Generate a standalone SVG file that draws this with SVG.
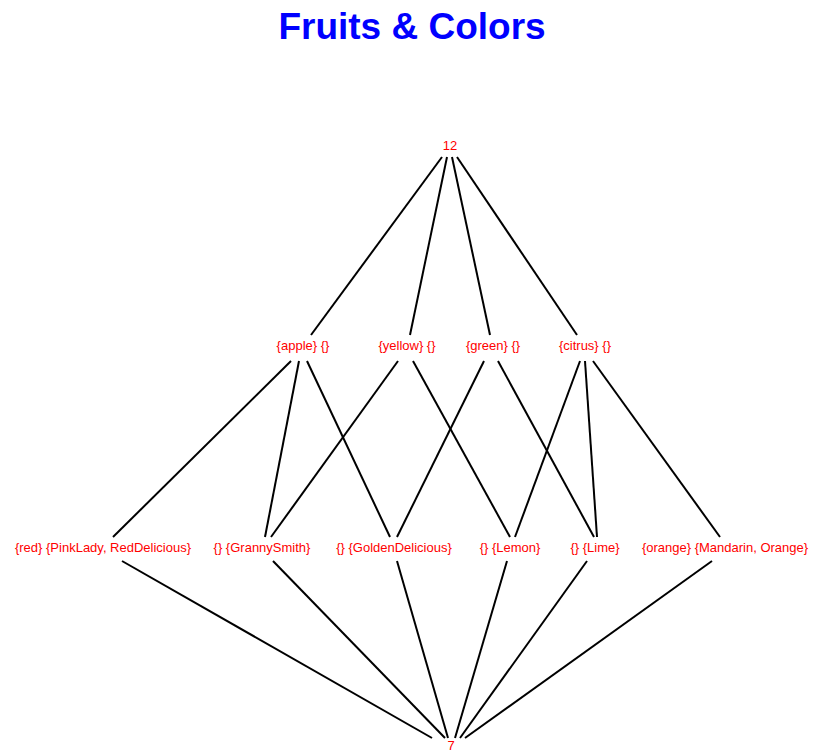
<svg xmlns="http://www.w3.org/2000/svg" width="813" height="753" viewBox="0 0 813 753">
<style>
.t{font-family:"Liberation Sans",Arial,sans-serif;font-size:37px;font-weight:bold;fill:#0000ff;text-anchor:middle}
.n{font-family:"Liberation Sans",Arial,sans-serif;font-size:13px;fill:#ff0000;text-anchor:middle}
.e line{stroke:#000;stroke-width:2;fill:none}
</style>
<rect width="813" height="753" fill="#fff"/>
<text class="t" x="412" y="39">Fruits &amp; Colors</text>
<g id="connectors" class="e">
<line x1="442" y1="157" x2="311" y2="335"/>
<line x1="447" y1="157" x2="410" y2="335"/>
<line x1="452" y1="157" x2="490" y2="335"/>
<line x1="457" y1="157" x2="577" y2="335"/>
<line x1="291" y1="361" x2="113" y2="537"/>
<line x1="299" y1="361" x2="265" y2="537"/>
<line x1="307" y1="361" x2="390" y2="537"/>
<line x1="398" y1="361" x2="271" y2="537"/>
<line x1="413" y1="361" x2="510" y2="537"/>
<line x1="484" y1="361" x2="397" y2="537"/>
<line x1="498" y1="361" x2="594" y2="537"/>
<line x1="580" y1="361" x2="515" y2="537"/>
<line x1="585" y1="361" x2="597" y2="537"/>
<line x1="593" y1="361" x2="720" y2="537"/>
<line x1="122" y1="561" x2="432" y2="738"/>
<line x1="273" y1="561" x2="445" y2="738"/>
<line x1="397" y1="561" x2="448" y2="738"/>
<line x1="507" y1="561" x2="455" y2="738"/>
<line x1="587" y1="561" x2="460" y2="738"/>
<line x1="712" y1="561" x2="465" y2="738"/>
</g>
<g id="top"><text class="n" x="450" y="150">12</text></g>
<g id="apple"><text class="n" x="303" y="350">{apple} {}</text></g>
<g id="yellow"><text class="n" x="407" y="350">{yellow} {}</text></g>
<g id="green"><text class="n" x="493" y="350">{green} {}</text></g>
<g id="citrus"><text class="n" x="585" y="350">{citrus} {}</text></g>
<g id="red"><text class="n" x="103" y="552">{red} {PinkLady, RedDelicious}</text></g>
<g id="grannysmith"><text class="n" x="262" y="552">{} {GrannySmith}</text></g>
<g id="goldendelicious"><text class="n" x="394" y="552">{} {GoldenDelicious}</text></g>
<g id="lemon"><text class="n" x="510" y="552">{} {Lemon}</text></g>
<g id="lime"><text class="n" x="595" y="552">{} {Lime}</text></g>
<g id="orange"><text class="n" x="725" y="552">{orange} {Mandarin, Orange}</text></g>
<g id="bottom"><text class="n" x="451" y="750">7</text></g>
</svg>
